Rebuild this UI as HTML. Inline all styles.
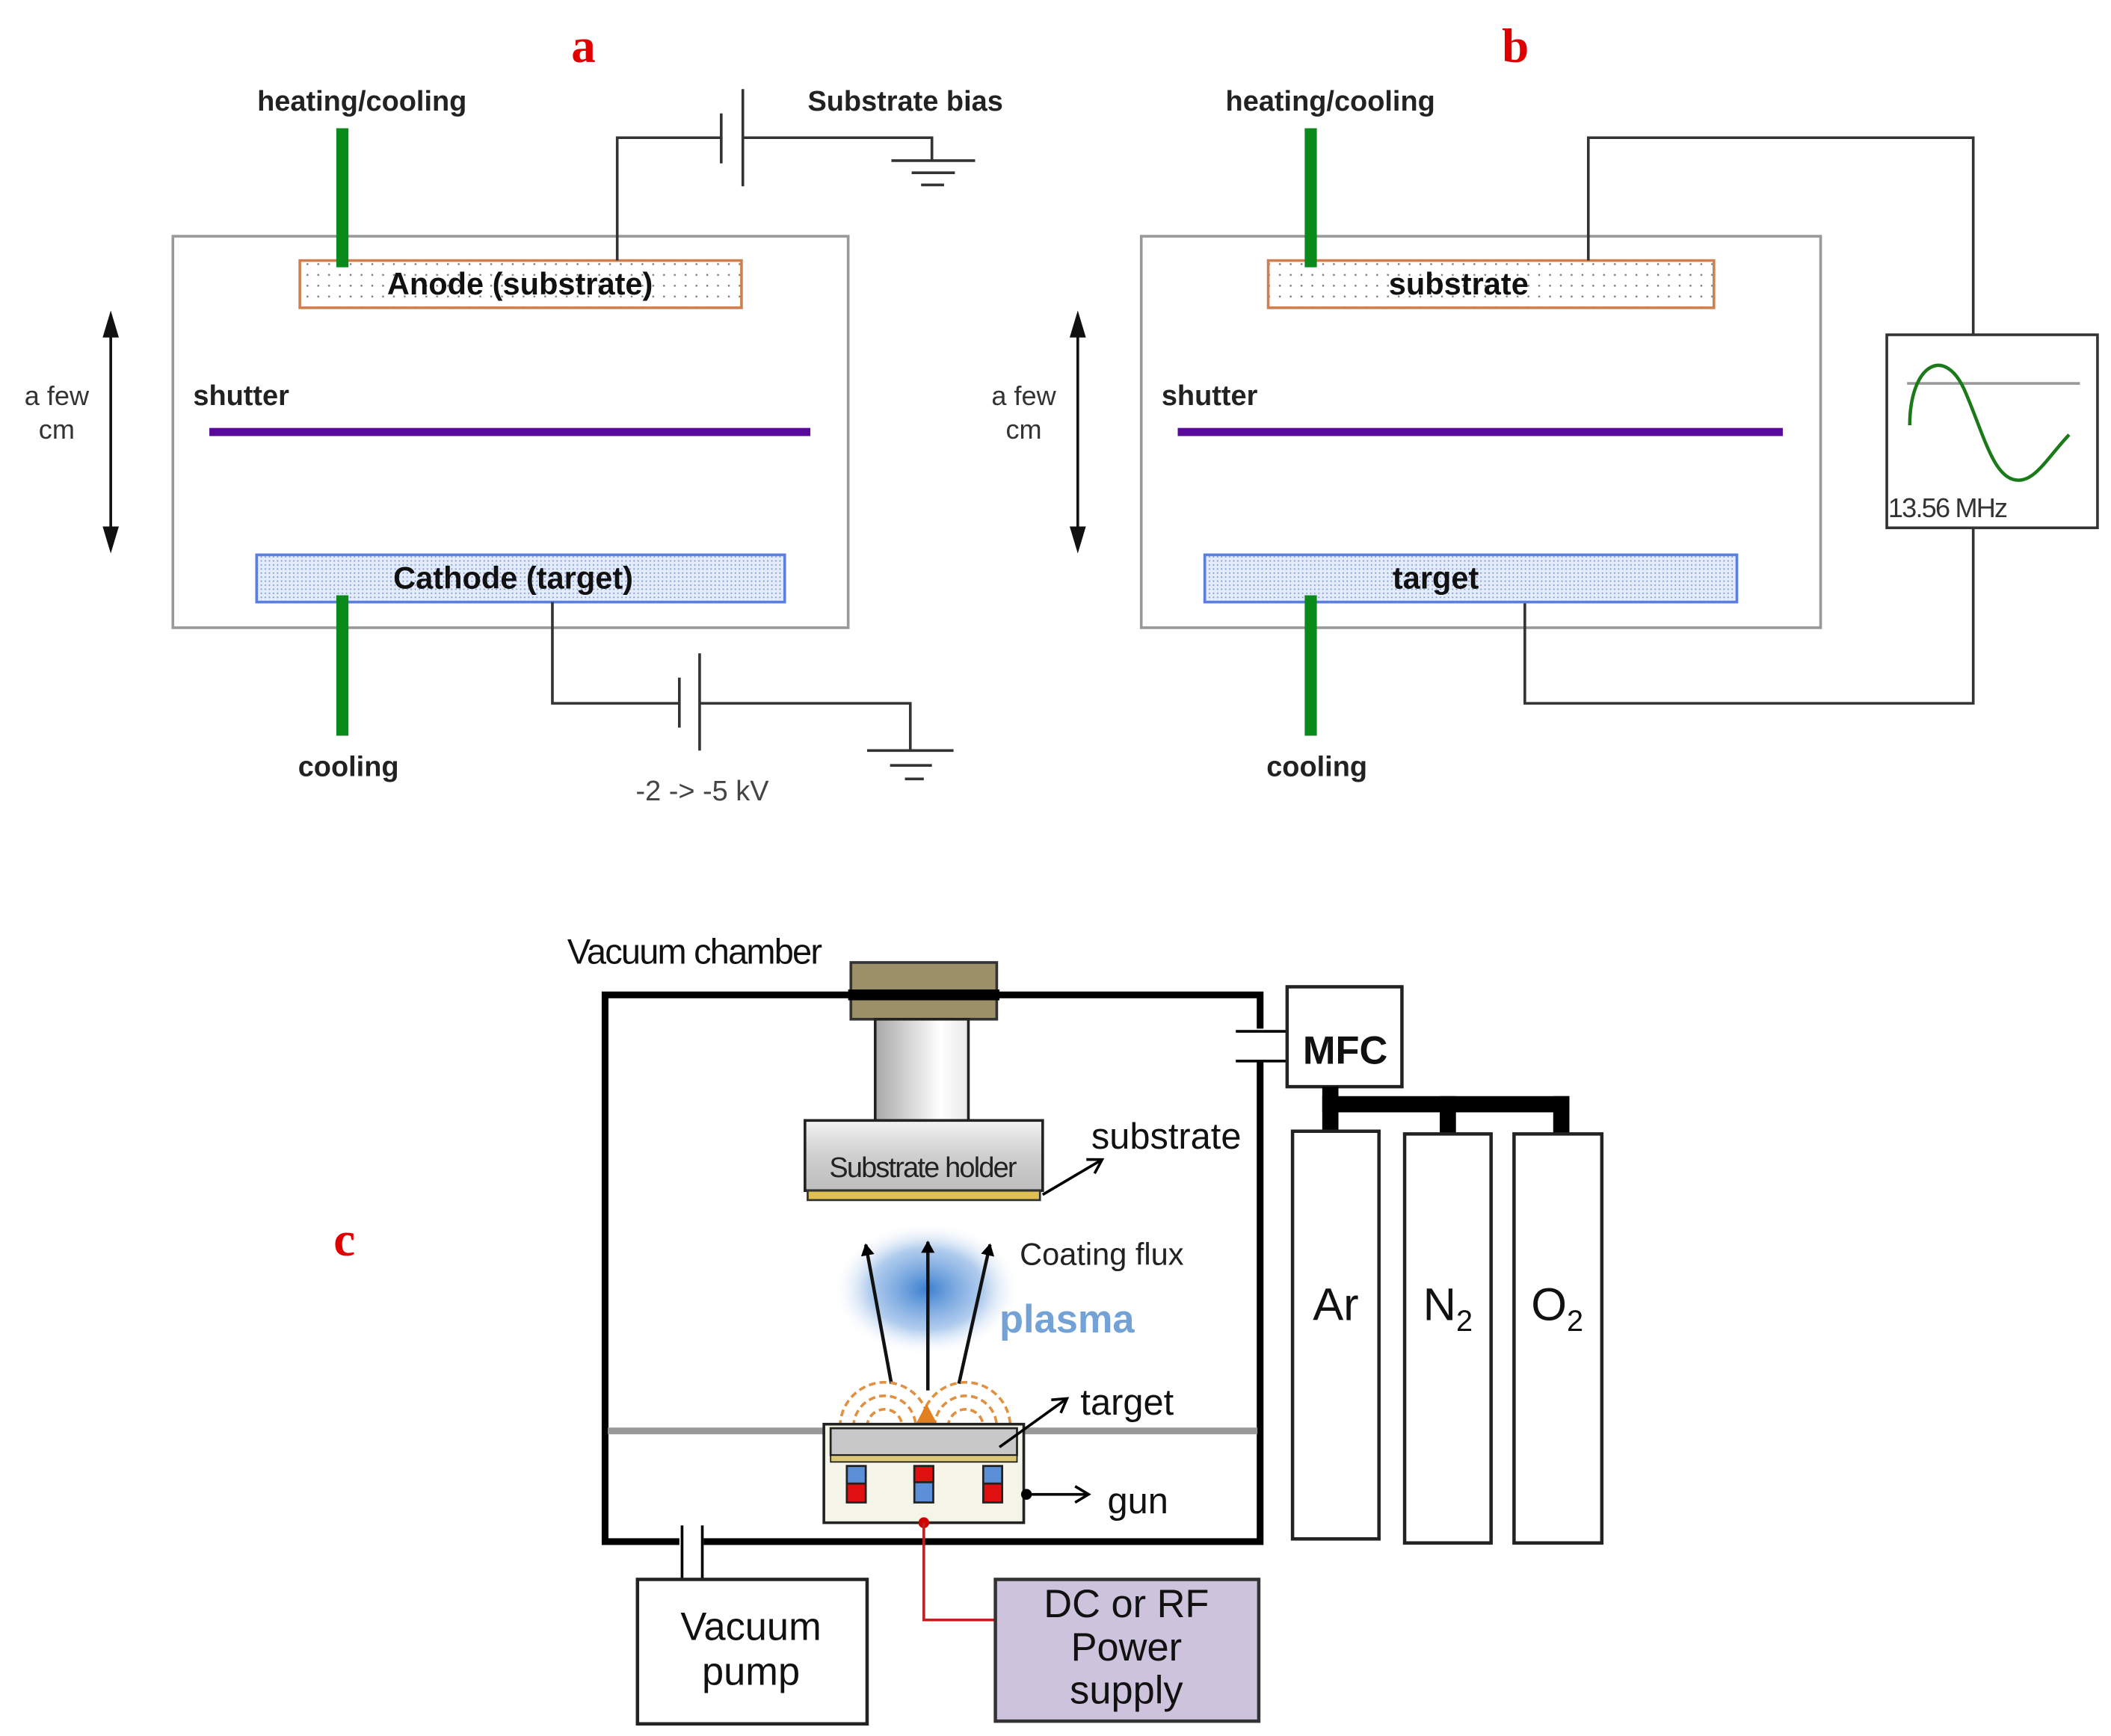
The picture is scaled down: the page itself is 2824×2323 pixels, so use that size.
<!DOCTYPE html>
<html><head><meta charset="utf-8"><style>
html,body{margin:0;padding:0;background:#fff;}
svg{display:block;}
text{font-family:"Liberation Sans",sans-serif;}
.s{font-family:"Liberation Serif",serif;font-weight:bold;fill:#e00000;}
</style></head><body>
<svg width="2824" height="2323" viewBox="0 0 1563 1286" preserveAspectRatio="none" xmlns="http://www.w3.org/2000/svg">
<defs>
<pattern id="dotO" width="8" height="8" patternUnits="userSpaceOnUse"><rect width="8" height="8" fill="#fff"/><rect x="3" y="3" width="1.3" height="1.3" fill="#777"/></pattern>
<pattern id="dotB" width="3" height="3" patternUnits="userSpaceOnUse"><rect width="3" height="3" fill="#e4ecfa"/><rect x="1" y="1" width="1" height="1" fill="#7b96d8"/></pattern>
<linearGradient id="cyl" x1="0" x2="1"><stop offset="0" stop-color="#a8a8a8"/><stop offset="0.7" stop-color="#fff"/><stop offset="1" stop-color="#e8e8e8"/></linearGradient>
<linearGradient id="hold" x1="0" x2="0" y1="0" y2="1"><stop offset="0" stop-color="#f2f2f2"/><stop offset="0.5" stop-color="#cfcfcf"/><stop offset="1" stop-color="#bdbdbd"/></linearGradient>
<radialGradient id="pl"><stop offset="0" stop-color="#3b7fd0"/><stop offset="0.6" stop-color="#8fb6e6" stop-opacity="0.7"/><stop offset="1" stop-color="#fff" stop-opacity="0"/></radialGradient>
<marker id="ah" markerWidth="10" markerHeight="10" refX="8" refY="5" orient="auto" markerUnits="userSpaceOnUse"><path d="M0,0 L9,5 L0,10 Z" fill="#000"/></marker>
<marker id="oa" markerWidth="14" markerHeight="14" refX="12" refY="7" orient="auto" markerUnits="userSpaceOnUse"><path d="M2,1 L12,7 L2,13" fill="none" stroke="#000" stroke-width="2"/></marker>
</defs>

<!-- ===== Panel a ===== -->
<text x="432" y="46" class="s" font-size="36" text-anchor="middle">a</text>
<text x="268" y="82" font-size="21" font-weight="bold" text-anchor="middle" fill="#222">heating/cooling</text>
<text x="598" y="82" font-size="21" font-weight="bold" fill="#222">Substrate bias</text>
<rect x="128" y="175" width="500" height="290" fill="none" stroke="#999" stroke-width="2"/>
<rect x="222" y="193" width="327" height="35" fill="url(#dotO)" stroke="#d08050" stroke-width="2"/>
<text x="385" y="218" font-size="23" font-weight="bold" text-anchor="middle" fill="#111">Anode (substrate)</text>
<rect x="249" y="95" width="9" height="103" fill="#0a8a1a"/>
<polyline points="457,193 457,102 534,102" fill="none" stroke="#333" stroke-width="2"/>
<line x1="534" y1="84" x2="534" y2="121" stroke="#333" stroke-width="2"/>
<line x1="550" y1="66" x2="550" y2="138" stroke="#333" stroke-width="2"/>
<polyline points="550,102 690,102 690,119" fill="none" stroke="#333" stroke-width="2"/>
<line x1="660" y1="119" x2="722" y2="119" stroke="#333" stroke-width="2"/>
<line x1="675" y1="128" x2="707" y2="128" stroke="#333" stroke-width="2"/>
<line x1="682" y1="137" x2="699" y2="137" stroke="#333" stroke-width="2"/>
<text x="42" y="300" font-size="20" text-anchor="middle" fill="#333">a few</text>
<text x="42" y="325" font-size="20" text-anchor="middle" fill="#333">cm</text>
<line x1="82" y1="245" x2="82" y2="395" stroke="#111" stroke-width="2"/>
<path d="M82,230 L76,250 L88,250 Z M82,410 L76,390 L88,390 Z" fill="#111"/>
<text x="143" y="300" font-size="21" font-weight="bold" fill="#222">shutter</text>
<line x1="155" y1="320" x2="600" y2="320" stroke="#5a0a9a" stroke-width="6"/>
<rect x="190" y="411" width="391" height="35" fill="url(#dotB)" stroke="#5b7fe0" stroke-width="2"/>
<text x="380" y="436" font-size="23" font-weight="bold" text-anchor="middle" fill="#111">Cathode (target)</text>
<rect x="249" y="441" width="9" height="104" fill="#0a8a1a"/>
<text x="258" y="575" font-size="21" font-weight="bold" text-anchor="middle" fill="#222">cooling</text>
<polyline points="409,446 409,521 503,521" fill="none" stroke="#333" stroke-width="2"/>
<line x1="503" y1="502" x2="503" y2="539" stroke="#333" stroke-width="2"/>
<line x1="518" y1="484" x2="518" y2="556" stroke="#333" stroke-width="2"/>
<polyline points="518,521 674,521 674,556" fill="none" stroke="#333" stroke-width="2"/>
<line x1="642" y1="556" x2="706" y2="556" stroke="#333" stroke-width="2"/>
<line x1="659" y1="567" x2="690" y2="567" stroke="#333" stroke-width="2"/>
<line x1="670" y1="577" x2="684" y2="577" stroke="#333" stroke-width="2"/>
<text x="520" y="593" font-size="21" text-anchor="middle" fill="#444">-2 -&gt; -5 kV</text>

<!-- ===== Panel b ===== -->
<text x="1122" y="46" class="s" font-size="36" text-anchor="middle">b</text>
<text x="985" y="82" font-size="21" font-weight="bold" text-anchor="middle" fill="#222">heating/cooling</text>
<rect x="845" y="175" width="503" height="290" fill="none" stroke="#999" stroke-width="2"/>
<rect x="939" y="193" width="330" height="35" fill="url(#dotO)" stroke="#d08050" stroke-width="2"/>
<text x="1080" y="218" font-size="23" font-weight="bold" text-anchor="middle" fill="#111">substrate</text>
<rect x="966" y="95" width="9" height="103" fill="#0a8a1a"/>
<polyline points="1176,193 1176,102 1461,102 1461,248" fill="none" stroke="#333" stroke-width="2"/>
<rect x="1397" y="248" width="156" height="143" fill="#fff" stroke="#333" stroke-width="2"/>
<line x1="1412" y1="284" x2="1540" y2="284" stroke="#999" stroke-width="2"/>
<path d="M1414,315 C1414,270 1440,255 1455,290 C1468,320 1475,350 1490,355 C1505,360 1515,340 1532,322" fill="none" stroke="#1a7a1a" stroke-width="2.5"/>
<text x="1398" y="383" font-size="20" fill="#333" letter-spacing="-1">13.56 MHz</text>
<polyline points="1461,391 1461,521 1129,521 1129,446" fill="none" stroke="#333" stroke-width="2"/>
<text x="758" y="300" font-size="20" text-anchor="middle" fill="#333">a few</text>
<text x="758" y="325" font-size="20" text-anchor="middle" fill="#333">cm</text>
<line x1="798" y1="245" x2="798" y2="395" stroke="#111" stroke-width="2"/>
<path d="M798,230 L792,250 L804,250 Z M798,410 L792,390 L804,390 Z" fill="#111"/>
<text x="860" y="300" font-size="21" font-weight="bold" fill="#222">shutter</text>
<line x1="872" y1="320" x2="1320" y2="320" stroke="#5a0a9a" stroke-width="6"/>
<rect x="892" y="411" width="394" height="35" fill="url(#dotB)" stroke="#5b7fe0" stroke-width="2"/>
<text x="1063" y="436" font-size="23" font-weight="bold" text-anchor="middle" fill="#111">target</text>
<rect x="966" y="441" width="9" height="104" fill="#0a8a1a"/>
<text x="975" y="575" font-size="21" font-weight="bold" text-anchor="middle" fill="#222">cooling</text>

<!-- ===== Panel c ===== -->
<text x="255" y="930" class="s" font-size="36" text-anchor="middle">c</text>
<text x="420" y="714" font-size="26" fill="#111" letter-spacing="-1">Vacuum chamber</text>
<rect x="448" y="737" width="485" height="405" fill="none" stroke="#000" stroke-width="5"/>
<rect x="630" y="713" width="108" height="42" fill="#9c9068" stroke="#333" stroke-width="2"/>
<rect x="628" y="733" width="112" height="8" fill="#000"/>
<rect x="648" y="755" width="69" height="75" fill="url(#cyl)" stroke="#222" stroke-width="2"/>
<rect x="596" y="830" width="176" height="52" fill="url(#hold)" stroke="#222" stroke-width="2"/>
<rect x="598" y="882" width="172" height="7" fill="#e0c050" stroke="#333" stroke-width="1.5"/>
<text x="683" y="872" font-size="21" text-anchor="middle" fill="#222" letter-spacing="-1">Substrate holder</text>
<line x1="772" y1="885" x2="816" y2="859" stroke="#000" stroke-width="2" marker-end="url(#oa)"/>
<text x="808" y="851" font-size="27" fill="#111">substrate</text>
<ellipse cx="686" cy="955" rx="70" ry="50" fill="url(#pl)"/>
<line x1="660" y1="1025" x2="641" y2="922" stroke="#111" stroke-width="2.5" marker-end="url(#ah)"/>
<line x1="687" y1="1030" x2="687" y2="920" stroke="#111" stroke-width="2.5" marker-end="url(#ah)"/>
<line x1="710" y1="1025" x2="733" y2="922" stroke="#111" stroke-width="2.5" marker-end="url(#ah)"/>
<text x="755" y="937" font-size="23" fill="#222">Coating flux</text>
<text x="740" y="987" font-size="29" font-weight="bold" fill="#72a2d6">plasma</text>
<g fill="none" stroke="#e09040" stroke-width="2" stroke-dasharray="5,3">
<path d="M622,1057 A33,33 0 0 1 688,1057"/><path d="M632,1057 A23,23 0 0 1 678,1057"/><path d="M642,1057 A13,13 0 0 1 668,1057"/>
<path d="M682,1057 A33,33 0 0 1 748,1057"/><path d="M692,1057 A23,23 0 0 1 738,1057"/><path d="M702,1057 A13,13 0 0 1 728,1057"/>
</g>
<path d="M678,1055 L686,1040 L694,1055 Z" fill="#e08020"/>
<line x1="450" y1="1060" x2="931" y2="1060" stroke="#999" stroke-width="5"/>
<rect x="610" y="1055" width="148" height="73" fill="#f4f4e8" stroke="#222" stroke-width="2"/>
<rect x="615" y="1058" width="138" height="20" fill="#c8c8c8" stroke="#222" stroke-width="1.5"/>
<rect x="615" y="1078" width="138" height="5" fill="#d8c878" stroke="#222" stroke-width="1"/>
<g stroke="#222" stroke-width="1.5">
<rect x="627" y="1086" width="14" height="27" fill="#e01010"/><rect x="627" y="1086" width="14" height="13" fill="#5b8fd8"/>
<rect x="677" y="1086" width="14" height="27" fill="#5b8fd8"/><rect x="677" y="1086" width="14" height="12" fill="#e01010"/>
<rect x="728" y="1086" width="14" height="27" fill="#e01010"/><rect x="728" y="1086" width="14" height="13" fill="#5b8fd8"/>
</g>
<line x1="740" y1="1072" x2="790" y2="1036" stroke="#000" stroke-width="2" marker-end="url(#oa)"/>
<text x="800" y="1048" font-size="27" fill="#111">target</text>
<circle cx="760" cy="1107" r="4" fill="#000"/>
<line x1="760" y1="1107" x2="806" y2="1107" stroke="#000" stroke-width="2" marker-end="url(#oa)"/>
<text x="820" y="1121" font-size="27" fill="#111">gun</text>
<circle cx="684" cy="1128" r="4" fill="#d00000"/>
<polyline points="684,1128 684,1200 737,1200" fill="none" stroke="#c02020" stroke-width="2"/>
<rect x="503" y="1130" width="18" height="40" fill="#fff" stroke="none"/>
<line x1="505" y1="1130" x2="505" y2="1170" stroke="#000" stroke-width="2"/>
<line x1="520" y1="1130" x2="520" y2="1170" stroke="#000" stroke-width="2"/>
<rect x="472" y="1170" width="170" height="107" fill="#fff" stroke="#222" stroke-width="2.5"/>
<text x="556" y="1215" font-size="29" text-anchor="middle" fill="#111">Vacuum</text>
<text x="556" y="1248" font-size="29" text-anchor="middle" fill="#111">pump</text>
<rect x="737" y="1170" width="195" height="105" fill="#cdc3dc" stroke="#333" stroke-width="2.5"/>
<text x="834" y="1198" font-size="29" text-anchor="middle" fill="#111">DC or RF</text>
<text x="834" y="1230" font-size="29" text-anchor="middle" fill="#111">Power</text>
<text x="834" y="1262" font-size="29" text-anchor="middle" fill="#111">supply</text>
<rect x="920" y="762" width="36" height="24" fill="#fff"/>
<line x1="915" y1="764" x2="953" y2="764" stroke="#000" stroke-width="2"/>
<line x1="915" y1="786" x2="953" y2="786" stroke="#000" stroke-width="2"/>
<rect x="953" y="731" width="85" height="74" fill="#fff" stroke="#222" stroke-width="2.5"/>
<text x="996" y="788" font-size="29" font-weight="bold" text-anchor="middle" fill="#111">MFC</text>
<rect x="979" y="805" width="12" height="35" fill="#000"/>
<rect x="979" y="812" width="183" height="12" fill="#000"/>
<rect x="1066" y="812" width="12" height="28" fill="#000"/>
<rect x="1150" y="812" width="12" height="28" fill="#000"/>
<rect x="957" y="838" width="64" height="302" fill="#fff" stroke="#222" stroke-width="2.5"/>
<rect x="1040" y="840" width="64" height="303" fill="#fff" stroke="#222" stroke-width="2.5"/>
<rect x="1121" y="840" width="65" height="303" fill="#fff" stroke="#222" stroke-width="2.5"/>
<text x="989" y="978" font-size="34" text-anchor="middle" fill="#111">Ar</text>
<text x="1072" y="978" font-size="34" text-anchor="middle" fill="#111">N<tspan font-size="22" dy="8">2</tspan></text>
<text x="1153" y="978" font-size="34" text-anchor="middle" fill="#111">O<tspan font-size="22" dy="8">2</tspan></text>
</svg>
</body></html>
